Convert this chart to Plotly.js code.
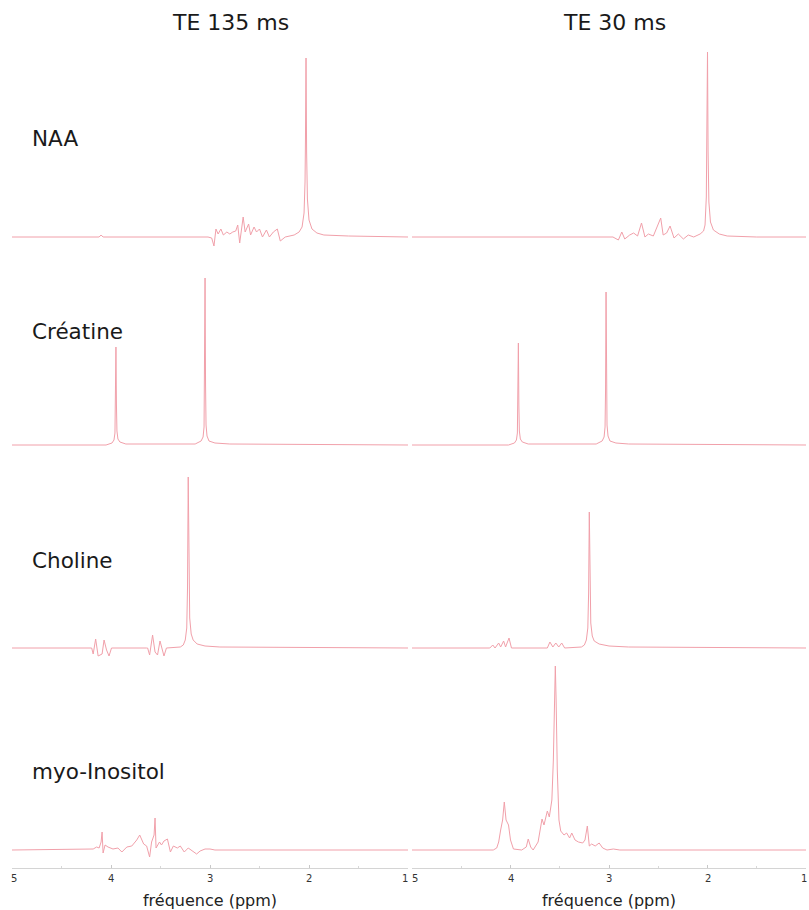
<!DOCTYPE html>
<html>
<head>
<meta charset="utf-8">
<script src="https://cdn.plot.ly/plotly-3.0.1.min.js"></script>
<style>html,body{margin:0;padding:0;background:#fff;}#chart{width:809px;height:910px;}</style>
</head>
<body>
<div id="chart"></div>
<script>
// ---- Data (ppm positions and intensities in arbitrary units) ----
const columnTitles = ["TE 135 ms", "TE 30 ms"];
const rowLabels = ["NAA", "Créatine", "Choline", "myo-Inositol"];
const tickValues = [5, 4, 3, 2, 1];
const tickLabels = ["5", "4", "3", "2", "1"];
const axisTitle = "fréquence (ppm)";

// NAA
const naa135_ppm = [5.0, 4.12, 4.10, 4.08, 3.02, 2.983, 2.96, 2.94, 2.918, 2.89, 2.865, 2.83, 2.80, 2.77, 2.74, 2.72, 2.70, 2.68, 2.665, 2.645, 2.61, 2.59, 2.555, 2.53, 2.50, 2.47, 2.43, 2.40, 2.36, 2.32, 2.29, 2.24, 2.15, 2.10, 2.07, 2.05, 2.04, 2.036, 2.03, 2.024, 2.016, 2.0, 1.97, 1.92, 1.85, 1.6, 1.0];
const naa135_int = [0, 0, 2, 0, 0, -1, -9, 8, 3, 8, 2, 5, 3, 5, 6, 12, -6, 10, 20, 5, 13, 2, 10, 5, 8, 0, 7, 0, 5, 8, -4, 0, 2, 5, 10, 24, 55, 95, 179, 85, 38, 17, 8, 4, 2, 1, 0];
const naa30_ppm = [5.0, 4.98, 2.96, 2.905, 2.87, 2.84, 2.79, 2.75, 2.71, 2.67, 2.635, 2.60, 2.55, 2.475, 2.45, 2.415, 2.38, 2.34, 2.296, 2.245, 2.195, 2.14, 2.075, 2.04, 2.025, 2.012, 2.006, 2.0, 1.994, 1.986, 1.97, 1.94, 1.88, 1.8, 1.5, 1.0];
const naa30_int = [0, 0, 0, -3, 5, -2, 2, 4, 1, 14, 0, 3, 1, 19, 2, 4, 11, -1, 3, -2, 2, 0, 3, 6, 12, 40, 90, 185, 85, 35, 15, 7, 3, 1, 0, 0];

// Créatine
const cr135_ppm = [5.0, 4.05, 3.99, 3.97, 3.96, 3.955, 3.95, 3.945, 3.94, 3.93, 3.91, 3.85, 3.15, 3.09, 3.07, 3.06, 3.055, 3.05, 3.045, 3.04, 3.03, 3.01, 2.95, 2.8, 1.0];
const cr135_int = [0, 0, 2, 5, 12, 40, 98, 40, 14, 6, 3, 1, 1, 4, 8, 18, 60, 167, 60, 20, 9, 4, 2, 1, 0];
const cr30_ppm = [5.0, 4.02, 3.96, 3.94, 3.93, 3.925, 3.92, 3.915, 3.91, 3.90, 3.88, 3.82, 3.13, 3.07, 3.05, 3.04, 3.035, 3.03, 3.025, 3.02, 3.01, 2.99, 2.93, 2.8, 1.0];
const cr30_int = [0, 0, 2, 5, 12, 40, 102, 40, 14, 6, 3, 1, 1, 4, 8, 18, 55, 153, 55, 20, 9, 4, 2, 1, 0];

// Choline
const cho135_ppm = [5.0, 4.21, 4.195, 4.18, 4.155, 4.13, 4.09, 4.07, 4.045, 4.02, 3.995, 3.64, 3.63, 3.61, 3.58, 3.555, 3.53, 3.505, 3.485, 3.465, 3.44, 3.30, 3.27, 3.25, 3.235, 3.227, 3.22, 3.213, 3.205, 3.19, 3.17, 3.13, 3.05, 2.9, 1.0];
const cho135_int = [0, 0, 0, -6, 9, -8, -6, 8, -2, -8, 0, 0, 0, -7, 13, -4, -7, 7, 0, -8, 0, 1, 3, 8, 20, 60, 171, 70, 30, 14, 8, 4, 2, 1, 0];
const cho30_ppm = [5.0, 4.21, 4.18, 4.157, 4.12, 4.10, 4.07, 4.05, 4.015, 3.99, 3.626, 3.60, 3.57, 3.54, 3.51, 3.48, 3.45, 3.28, 3.25, 3.23, 3.215, 3.207, 3.20, 3.193, 3.185, 3.17, 3.15, 3.10, 3.0, 2.8, 1.0];
const cho30_int = [0, 0, 3, 0, 5, 1, 7, 1, 10, 0, 0, 6, 1, 5, 1, 5, 0, 1, 3, 8, 20, 55, 136, 60, 25, 12, 7, 4, 2, 1, 0];

// myo-Inositol
const mi135_ppm = [5.0, 4.18, 4.145, 4.12, 4.10, 4.09, 4.08, 4.06, 4.03, 3.98, 3.93, 3.89, 3.84, 3.79, 3.74, 3.71, 3.67, 3.64, 3.61, 3.59, 3.565, 3.555, 3.545, 3.51, 3.49, 3.465, 3.43, 3.40, 3.37, 3.33, 3.30, 3.26, 3.22, 3.175, 3.135, 3.10, 3.05, 3.0, 2.95, 1.0];
const mi135_int = [0, 1, 3, 2, 8, 18, -3, 5, 3, 1, 2, -2, 3, 4, 10, 15, 6, 4, -7, 8, 15, 32, 2, 8, 5, 9, 11, -2, 4, 2, 4, -2, 2, -1, -4, -1, 1, 1, 0, 0];
const mi30_ppm = [5.0, 4.175, 4.14, 4.12, 4.10, 4.08, 4.063, 4.045, 4.02, 4.0, 3.97, 3.886, 3.84, 3.82, 3.795, 3.77, 3.72, 3.68, 3.66, 3.626, 3.606, 3.58, 3.565, 3.553, 3.545, 3.537, 3.525, 3.508, 3.49, 3.457, 3.43, 3.40, 3.378, 3.345, 3.31, 3.267, 3.244, 3.22, 3.20, 3.176, 3.14, 3.10, 3.064, 3.02, 2.956, 2.89, 1.0];
const mi30_int = [0, 0, 2, 8, 20, 30, 48, 30, 25, 10, 1, 0, 3, 11, 3, 0, 8, 31, 25, 39, 33, 50, 90, 150, 184, 150, 80, 30, 19, 15, 17, 12, 17, 10, 8, 7, 10, 24, 4, 6, 4, 7, 2, 0, 1, 0, 0];

// ---- Build ----
const W = 809, H = 910;
const lineColor = "#f1a0aa";
const panels = [
  [[naa135_ppm, naa135_int], [naa30_ppm, naa30_int]],
  [[cr135_ppm, cr135_int], [cr30_ppm, cr30_int]],
  [[cho135_ppm, cho135_int], [cho30_ppm, cho30_int]],
  [[mi135_ppm, mi135_int], [mi30_ppm, mi30_int]]
];
const rowBox = [[40, 250], [252, 455], [457, 658], [660, 862]];
const rowRange = [[-13, 197], [-10, 193], [-10, 191], [-12, 190]];
const colBox = [[12, 408], [412, 806]];
const axisLineY = 868;

const traces = [];
panels.forEach((row, r) => {
  row.forEach((p, c) => {
    traces.push({
      x: p[0], y: p[1], type: "scatter", mode: "lines",
      xaxis: c === 0 ? "x" : "x2",
      yaxis: r === 0 ? "y" : "y" + (r + 1),
      line: { color: lineColor, width: 1 },
      hoverinfo: "skip", showlegend: false
    });
  });
});

const font = "DejaVu Sans, Verdana, sans-serif";
const xAxisBase = (c) => ({
  domain: [colBox[c][0] / W, colBox[c][1] / W],
  range: [5, 1],
  anchor: "free",
  position: (H - axisLineY) / H,
  showline: true, linecolor: "#d4d4d4", linewidth: 1,
  showgrid: false, zeroline: false,
  ticks: "inside", ticklen: 3, tickcolor: "#c8c8c8",
  tickvals: tickValues, showticklabels: false,
  minor: { tickvals: [4.5, 3.5, 2.5, 1.5], ticks: "inside", ticklen: 2, tickcolor: "#d8d8d8" },
  title: { text: axisTitle, font: { family: font, size: 16, color: "#222" }, standoff: 26 },
  fixedrange: true
});

const layout = {
  width: W, height: H,
  margin: { l: 0, r: 0, t: 0, b: 0 },
  paper_bgcolor: "#fff", plot_bgcolor: "rgba(0,0,0,0)",
  showlegend: false,
  xaxis: xAxisBase(0),
  xaxis2: xAxisBase(1),
  annotations: []
};
rowBox.forEach((b, r) => {
  const key = r === 0 ? "yaxis" : "yaxis" + (r + 1);
  layout[key] = {
    domain: [(H - b[1]) / H, (H - b[0]) / H],
    range: rowRange[r],
    visible: false, fixedrange: true
  };
});

// tick labels placed on the data scale of each x axis (end labels nudged so they do not collide)
const tickShift = [[2, 0, 0, 0, -3], [3, 0, 0, 0, -2]];
["x", "x2"].forEach((ax, c) => {
  tickValues.forEach((v, i) => {
    layout.annotations.push({
      text: tickLabels[i], xref: ax, yref: "paper",
      x: v, y: (H - axisLineY - 3) / H, xanchor: "center", yanchor: "top",
      xshift: tickShift[c][i], showarrow: false,
      font: { family: font, size: 10, color: "#333" }
    });
  });
});

// column titles
const colTitleX = [230, 614];
columnTitles.forEach((t, i) => {
  layout.annotations.push({
    text: t, xref: "paper", yref: "paper",
    x: colTitleX[i] / W, y: 1 - 22 / H, xanchor: "center", yanchor: "middle",
    showarrow: false, font: { family: font, size: 22, color: "#1a1a1a" }
  });
});
// row labels
const rowLabelY = [138, 331, 560, 771];
rowLabels.forEach((t, i) => {
  layout.annotations.push({
    text: t, xref: "paper", yref: "paper",
    x: 30 / W, y: 1 - rowLabelY[i] / H, xanchor: "left", yanchor: "middle",
    showarrow: false, font: { family: font, size: 21.5, color: "#1a1a1a" }
  });
});

Plotly.newPlot("chart", traces, layout, { displayModeBar: false, staticPlot: true });
</script>
</body>
</html>
